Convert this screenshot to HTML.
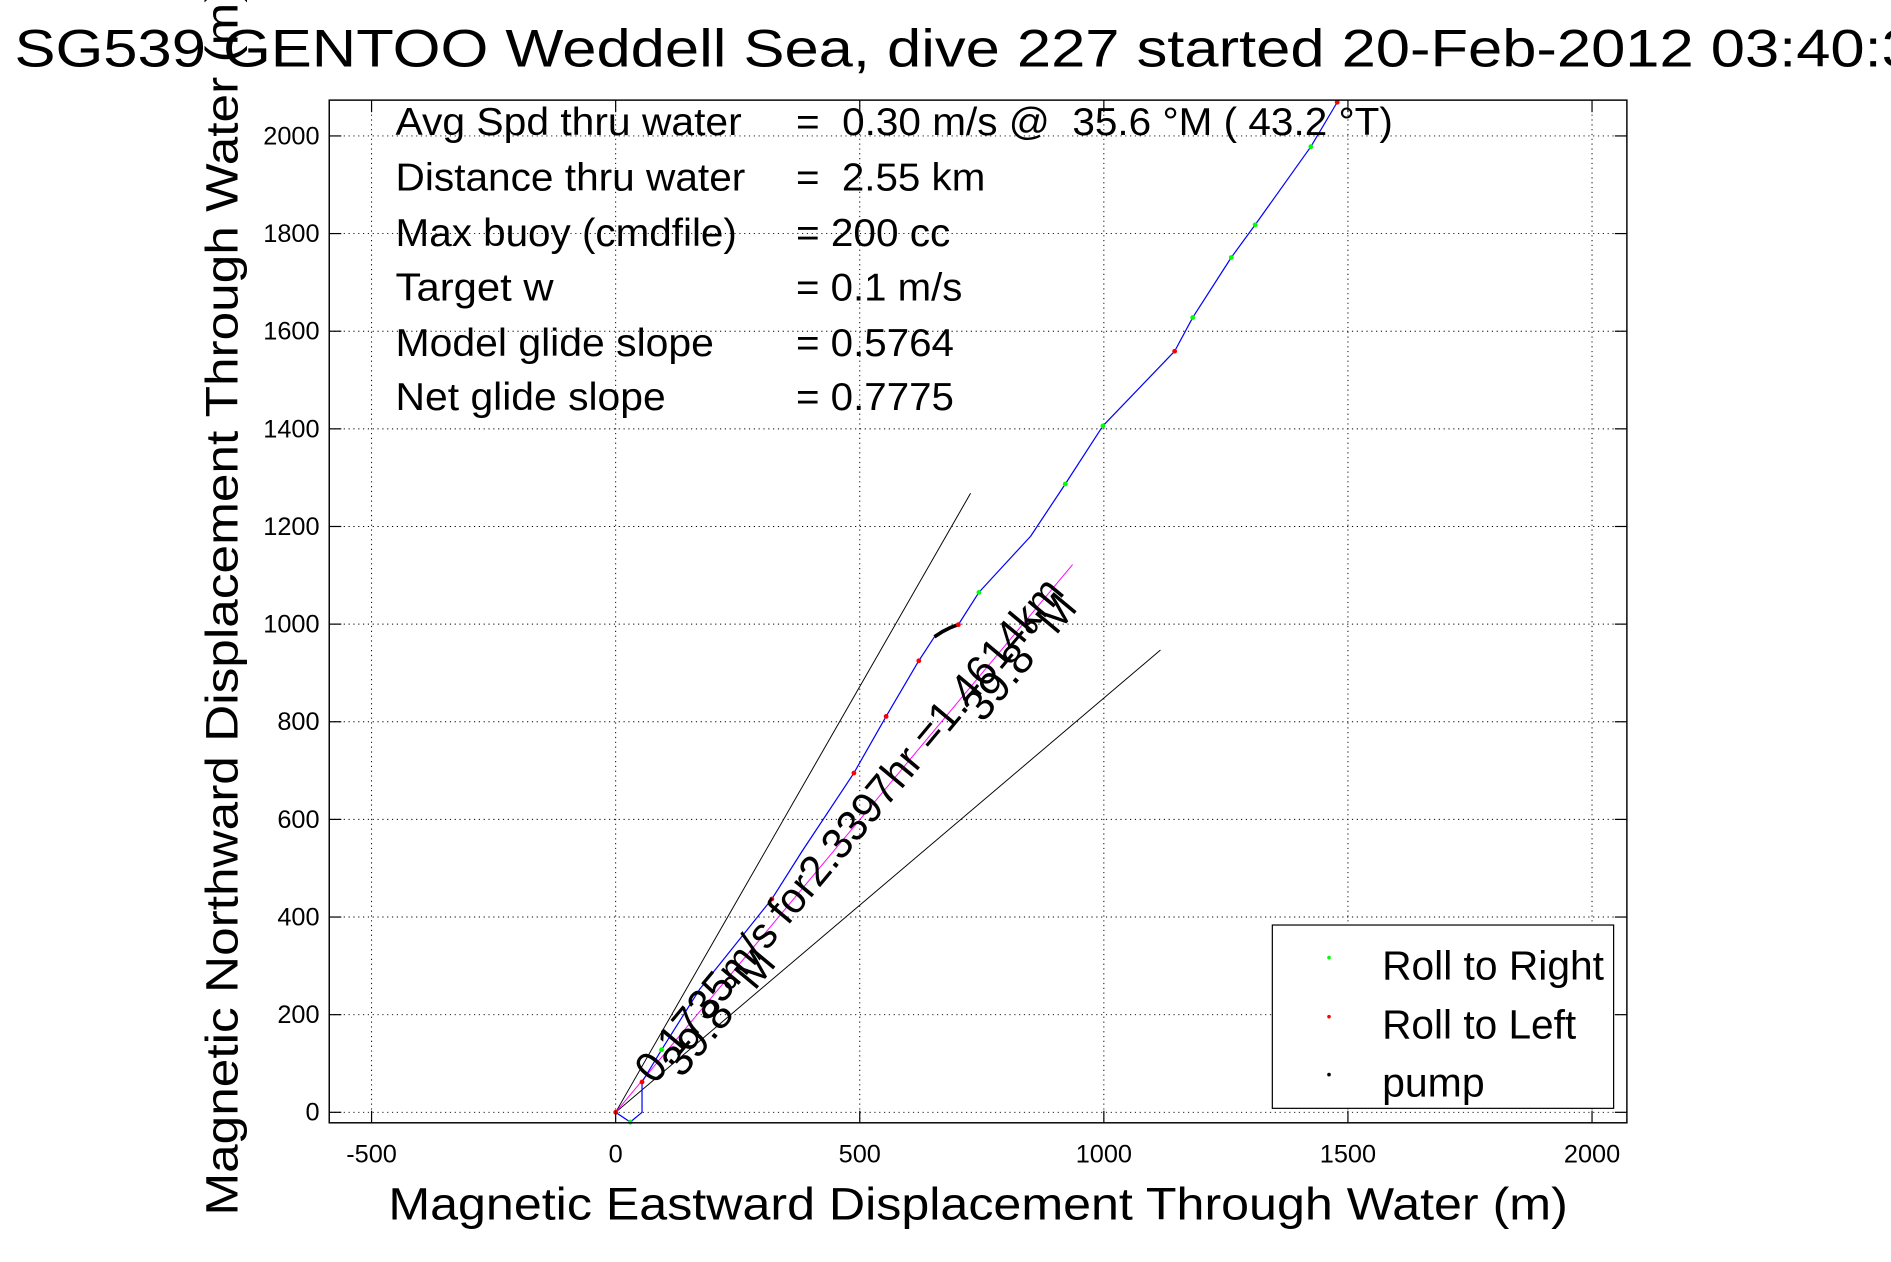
<!DOCTYPE html>
<html><head><meta charset="utf-8"><style>
html,body{margin:0;padding:0;background:#fff;}
svg{display:block;font-family:"Liberation Sans",sans-serif;}
text{white-space:pre;}
</style></head><body>
<svg id="chart" width="1891" height="1262" viewBox="0 0 1568 1046.4" xmlns="http://www.w3.org/2000/svg">
<rect x="0" y="0" width="1568" height="1046.4" fill="#fff"/>
<g id="grid"></g>
<g id="marks"></g>
<rect x="273" y="83" width="1076" height="848" fill="none" stroke="#000" stroke-width="1.2"/>
<g id="ticks" font-size="21"></g>
<text x="12" y="55" font-size="44" textLength="1605" lengthAdjust="spacingAndGlyphs">SG539 GENTOO Weddell Sea, dive 227 started 20-Feb-2012 03:40:39</text>
<text x="322" y="1011" font-size="38" textLength="978" lengthAdjust="spacingAndGlyphs">Magnetic Eastward Displacement Through Water (m)</text>
<text transform="translate(197,1008) rotate(-90)" font-size="38" textLength="1020" lengthAdjust="spacingAndGlyphs">Magnetic Northward Displacement Through Water (m)</text>
<g font-size="32">
<text x="328" y="112" textLength="287" lengthAdjust="spacingAndGlyphs">Avg Spd thru water</text><text x="660" y="112" textLength="495" lengthAdjust="spacingAndGlyphs">=  0.30 m/s @  35.6 °M ( 43.2 °T)</text>
<text x="328" y="158" textLength="290" lengthAdjust="spacingAndGlyphs">Distance thru water</text><text x="660" y="158" textLength="157" lengthAdjust="spacingAndGlyphs">=  2.55 km</text>
<text x="328" y="204" textLength="283" lengthAdjust="spacingAndGlyphs">Max buoy (cmdfile)</text><text x="660" y="204" textLength="128" lengthAdjust="spacingAndGlyphs">= 200 cc</text>
<text x="328" y="249" textLength="131" lengthAdjust="spacingAndGlyphs">Target w</text><text x="660" y="249" textLength="138" lengthAdjust="spacingAndGlyphs">= 0.1 m/s</text>
<text x="328" y="295" textLength="264" lengthAdjust="spacingAndGlyphs">Model glide slope</text><text x="660" y="295" textLength="131" lengthAdjust="spacingAndGlyphs">= 0.5764</text>
<text x="328" y="340" textLength="224" lengthAdjust="spacingAndGlyphs">Net glide slope</text><text x="660" y="340" textLength="131" lengthAdjust="spacingAndGlyphs">= 0.7775</text>
</g>
<g>
<rect x="1055" y="767" width="283" height="152" fill="#fff" stroke="#000" stroke-width="1"/>
<circle cx="1102" cy="794" r="1.5" fill="#0f0"/><text x="1146" y="812" font-size="34" textLength="184" lengthAdjust="spacingAndGlyphs">Roll to Right</text>
<circle cx="1102" cy="843" r="1.5" fill="#f00"/><text x="1146" y="861" font-size="34" textLength="161" lengthAdjust="spacingAndGlyphs">Roll to Left</text>
<circle cx="1102" cy="891" r="1.5" fill="#000"/><text x="1146" y="909" font-size="34">pump</text>
</g>
</svg>
<script>
const xTicks=[-500,0,500,1000,1500,2000];
const yTicks=[0,200,400,600,800,1000,1200,1400,1600,1800,2000];
const trackX=[0,30,54,54,94,172,320,382,488,554,621,653,702,744,850,921,998,1145,1182,1261,1310,1424,1478];
const trackY=[0,-20,0,62,128,252,437,535,695,811,925,974,999,1065,1180,1287,1406,1559,1628,1751,1818,1978,2069];
const rightX=[30,744,921,998,1182,1261,1310,1424,94];
const rightY=[-20,1065,1287,1406,1628,1751,1818,1978,128];
const leftX=[0,54,320,488,554,621,702,1145,1478];
const leftY=[0,62,437,695,811,925,999,1559,2069];
const pumpX=[653,670,686,702];
const pumpY=[974,985,993,999];
const boundA=[727,1268];
const boundB=[1116,947];
const meanEnd=[936,1122];
const NS='http://www.w3.org/2000/svg';
const X0=510.5,Y0=922.3,K=0.4048;
const sx=v=>X0+v*K, sy=v=>Y0-v*K;
function mk(tag,attrs,parent){const e=document.createElementNS(NS,tag);for(const k in attrs)e.setAttribute(k,attrs[k]);parent.appendChild(e);return e;}
const grid=document.getElementById('grid'),ticks=document.getElementById('ticks'),marks=document.getElementById('marks');
xTicks.forEach(t=>{
 const l=mk('line',{x1:sx(t),x2:sx(t),y1:83,y2:931,stroke:'#000','stroke-width':0.8,'stroke-dasharray':'1 3'},grid);
 
 
 mk('line',{x1:sx(t),x2:sx(t),y1:931,y2:921,stroke:'#000'},ticks);
 mk('line',{x1:sx(t),x2:sx(t),y1:83,y2:93,stroke:'#000'},ticks);
 const tx=mk('text',{x:sx(t),y:964,'text-anchor':'middle'},ticks);
 tx.textContent=t;
 
 
});
yTicks.forEach(t=>{
 const l=mk('line',{x1:273,x2:1349,y1:sy(t),y2:sy(t),stroke:'#000','stroke-width':0.8,'stroke-dasharray':'1 3'},grid);
 
 
 mk('line',{x1:273,x2:283,y1:sy(t),y2:sy(t),stroke:'#000'},ticks);
 mk('line',{x1:1349,x2:1339,y1:sy(t),y2:sy(t),stroke:'#000'},ticks);
 const tx=mk('text',{x:265,y:sy(t)+7,'text-anchor':'end'},ticks);
 tx.textContent=t;
 
 
});
const ba=mk('line',{x1:sx(0),y1:sy(0),x2:sx(boundA[0]),y2:sy(boundA[1]),stroke:'#000','stroke-width':0.8},marks);


const bb=mk('line',{x1:sx(0),y1:sy(0),x2:sx(boundB[0]),y2:sy(boundB[1]),stroke:'#000','stroke-width':0.8},marks);


const me=mk('line',{x1:sx(0),y1:sy(0),x2:sx(meanEnd[0]),y2:sy(meanEnd[1]),stroke:'#f0f','stroke-width':0.8},marks);


const tr=mk('polyline',{points:trackX.map((x,i)=>sx(x)+','+sy(trackY[i])).join(' '),fill:'none',stroke:'#00f','stroke-width':1,'stroke-linejoin':'round'},marks);


const pm=mk('polyline',{points:pumpX.map((x,i)=>sx(x)+','+sy(pumpY[i])).join(' '),fill:'none',stroke:'#000','stroke-width':3},marks);


rightX.forEach((x,i)=>{const c=mk('circle',{cx:sx(x),cy:sy(rightY[i]),r:2,fill:'#0f0'},marks);
 
 });
leftX.forEach((x,i)=>{const c=mk('circle',{cx:sx(x),cy:sy(leftY[i]),r:2,fill:'#f00'},marks);
 
 });
const ang=-Math.atan2(meanEnd[1],meanEnd[0])*180/Math.PI;
const t1=mk('text',{transform:`translate(${sx(80)},${sy(55)}) rotate(${ang})`,'font-size':36,textLength:532,lengthAdjust:'spacingAndGlyphs'},marks);
t1.textContent='0.1735m/s for2.3397hr =1.4614km';


const t2=mk('text',{transform:`translate(${sx(135)},${sy(68)}) rotate(${ang})`,'font-size':36},marks);
t2.textContent='39.8 °M';


const t3=mk('text',{transform:`translate(${sx(752)},${sy(796)}) rotate(${ang})`,'font-size':36},marks);
t3.textContent='39.8 °M';


</script>
</body></html>
